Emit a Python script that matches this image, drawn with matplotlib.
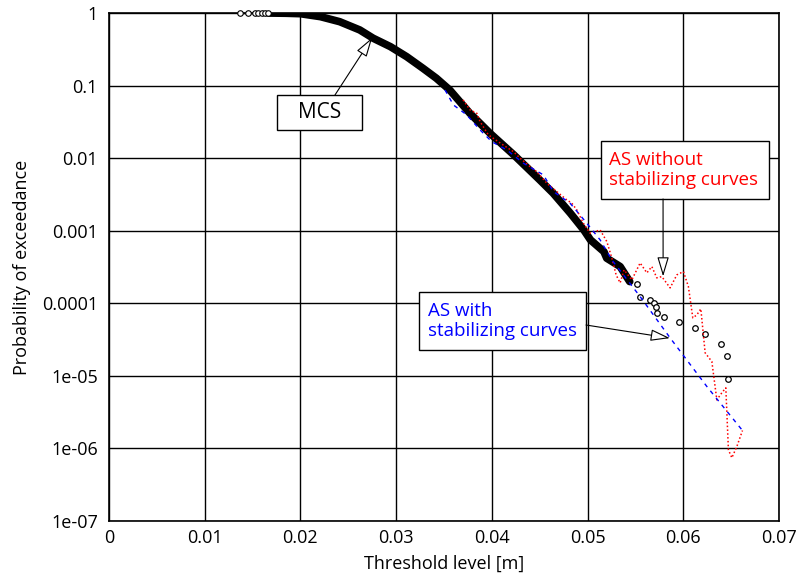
import numpy as np
import matplotlib.pyplot as plt
from matplotlib.patches import Rectangle

plt.rcParams['font.family'] = ['Open Sans', 'DejaVu Sans']

# MCS: start markers (sparse), dense body, sparse tail
mcs_start_x = [0.01369, 0.01456, 0.01526, 0.01557, 0.01596, 0.01630, 0.01661]
mcs_start_p = [1.0, 1.0, 1.0, 1.0, 1.0, 1.0, 1.0]

mcs_x = [0.0167, 0.0185, 0.0200, 0.0221, 0.0241, 0.0262, 0.0276, 0.0294, 0.0311,
         0.0328, 0.0342, 0.0356, 0.0377, 0.0398, 0.0423, 0.0450, 0.0464, 0.0482,
         0.0496, 0.0503, 0.0517, 0.0520, 0.0534, 0.0544]
mcs_logp = [-0.001, -0.004, -0.01, -0.051, -0.120, -0.234, -0.348, -0.464, -0.602,
            -0.762, -0.899, -1.061, -1.382, -1.657, -1.956, -2.300, -2.483, -2.759,
            -2.989, -3.127, -3.288, -3.379, -3.494, -3.701]

tail_x = [0.0552, 0.0555, 0.0565, 0.0569, 0.0571, 0.0572, 0.0580, 0.0595, 0.0612,
          0.0623, 0.0639, 0.0646, 0.0647]
tail_logp = [-3.73, -3.91, -3.95, -3.99, -4.05, -4.13, -4.19, -4.26, -4.34,
             -4.43, -4.56, -4.73, -5.04]

# AS without stabilizing curves (red)
red_x = [0.03699, 0.03772, 0.03842, 0.03877, 0.03963, 0.04086, 0.04225, 0.04295,
         0.04399, 0.04469, 0.04574, 0.04678, 0.04783, 0.04835, 0.04887, 0.04956,
         0.05026, 0.05131, 0.05201, 0.05253, 0.05298, 0.05340, 0.05381, 0.05462,
         0.05549, 0.05619, 0.05671, 0.05723, 0.05775, 0.05862, 0.05932, 0.06001,
         0.06053, 0.06099, 0.06141, 0.06183, 0.06228, 0.06298, 0.06350, 0.06402,
         0.06444, 0.06471, 0.06507, 0.06559, 0.06618]
red_logp = [-1.198, -1.336, -1.381, -1.497, -1.680, -1.791, -1.910, -2.001,
            -2.117, -2.186, -2.346, -2.461, -2.576, -2.621, -2.713, -2.897,
            -3.034, -2.989, -3.150, -3.375, -3.609, -3.719, -3.540, -3.678,
            -3.444, -3.581, -3.494, -3.650, -3.632, -3.788, -3.609, -3.563,
            -3.770, -4.201, -4.160, -4.077, -4.683, -4.803, -5.331, -5.234,
            -5.165, -6.019, -6.129, -5.974, -5.753]

# AS with stabilizing curves (blue)
blue_x = [0.03511, 0.03598, 0.03738, 0.03877, 0.03999, 0.04156, 0.04329, 0.04538,
          0.04643, 0.04817, 0.04992, 0.05131, 0.05253, 0.05549, 0.05862, 0.06246,
          0.06618]
blue_logp = [-1.061, -1.267, -1.405, -1.612, -1.773, -1.887, -2.070, -2.231,
             -2.461, -2.621, -2.897, -3.127, -3.402, -3.908, -4.477, -5.147,
             -5.753]

yticks = [1, 0.1, 0.01, 0.001, 0.0001, 1e-05, 1e-06, 1e-07]
ytick_labels = ['1', '0.1', '0.01', '0.001', '0.0001', '1e-05', '1e-06', '1e-07']
xticks = [0, 0.01, 0.02, 0.03, 0.04, 0.05, 0.06, 0.07]
xtick_labels = ['0', '0.01', '0.02', '0.03', '0.04', '0.05', '0.06', '0.07']

fig = plt.figure(figsize=(7.96, 5.82), dpi=100)
ax = fig.add_axes([0.1369, 0.1048, 0.8418, 0.8729])

ax.set_yscale('log')
ax.set_xlim(0, 0.07)
ax.set_ylim(1e-7, 1)

ax.grid(True, color='black', lw=1)
ax.set_axisbelow(True)

ax.plot(mcs_x, 10 ** np.array(mcs_logp), color='black', lw=5.5, solid_capstyle='round', zorder=3)
ax.plot(mcs_start_x, mcs_start_p, 'o-', color='black', lw=1, mfc='white', ms=4, mew=0.8, zorder=3, clip_on=False)
ax.plot(tail_x, 10 ** np.array(tail_logp), 'o', color='black', mfc='white', ms=4, mew=0.9, zorder=4)

ax.plot(red_x, 10 ** np.array(red_logp), color='red', ls=(0, (1, 1.5)), lw=1.1, zorder=5)
ax.plot(blue_x, 10 ** np.array(blue_logp), color='blue', ls=(0, (3, 3.5)), lw=1.0, zorder=5)

ax.set_xticks(xticks)
ax.set_xticklabels(xtick_labels)
ax.set_yticks(yticks)
ax.set_yticklabels(ytick_labels)
ax.minorticks_off()
ax.tick_params(length=0, labelsize=13)
ax.tick_params(axis='x', pad=6)
ax.tick_params(axis='y', pad=8)
for s in ax.spines.values():
    s.set_color('black')
    s.set_linewidth(1.2)

ax.set_xlabel('Threshold level [m]', fontsize=13, labelpad=5)
ax.set_ylabel('Probability of exceedance', fontsize=13, labelpad=8)

arrow = dict(arrowstyle='-|>,head_length=1.0,head_width=0.3', mutation_scale=12,
             fc='white', ec='black', lw=0.8, shrinkA=0, shrinkB=0)

# MCS label box (axes fraction)
ax.add_patch(Rectangle((0.2507, 0.7697), 0.1269, 0.0689, transform=ax.transAxes,
                       fc='white', ec='black', lw=1, zorder=6))
ax.text(0.3142, 0.8041, 'MCS', transform=ax.transAxes, fontsize=15,
        ha='center', va='center', zorder=7)
ax.annotate('', xy=(0.0275, 10 ** -0.34), xytext=(0.3373, 0.8386), textcoords='axes fraction',
            arrowprops=arrow, zorder=6)

# AS without stabilizing curves
ax.add_patch(Rectangle((0.7343, 0.6339), 0.2508, 0.1141, transform=ax.transAxes,
                       fc='white', ec='black', lw=1, zorder=6))
ax.text(0.7463, 0.6915, 'AS without\nstabilizing curves', transform=ax.transAxes,
        fontsize=13.5, color='red', ha='left', va='center', linespacing=1.15, zorder=7)
ax.annotate('', xy=(0.05789, 10 ** -3.63), xytext=(0.8269, 0.6339), textcoords='axes fraction',
            arrowprops=arrow, zorder=6)

# AS with stabilizing curves
ax.add_patch(Rectangle((0.4627, 0.3366), 0.2492, 0.1142, transform=ax.transAxes,
                       fc='white', ec='black', lw=1, zorder=6))
ax.text(0.4761, 0.3937, 'AS with\nstabilizing curves', transform=ax.transAxes,
        fontsize=13.5, color='blue', ha='left', va='center', linespacing=1.15, zorder=7)
ax.annotate('', xy=(0.0586, 10 ** -4.48), xytext=(0.7119, 0.3858), textcoords='axes fraction',
            arrowprops=arrow, zorder=6)

fig.savefig('out.png', dpi=100)
